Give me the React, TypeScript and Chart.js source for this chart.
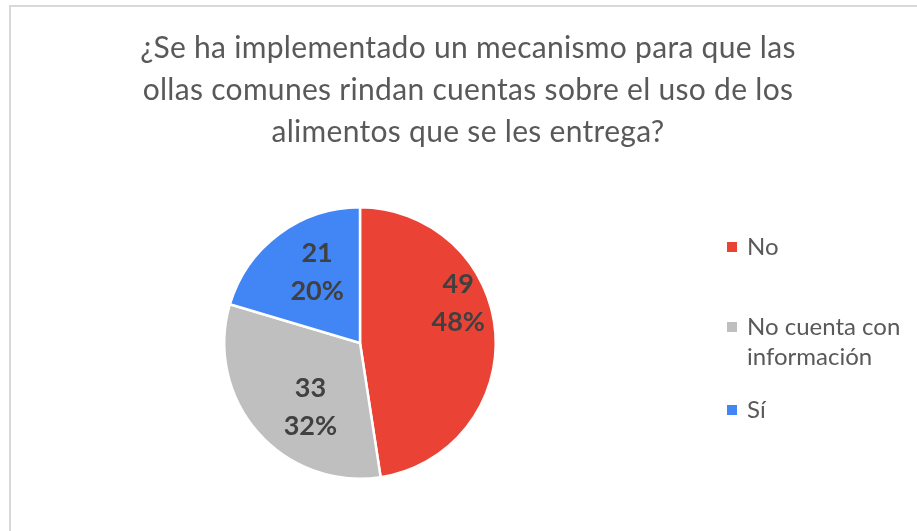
import React, { useEffect, useRef } from "react";
import { Chart, registerables } from "chart.js";

Chart.register(...registerables);

// ---- data ----
const categories = ["No", "No cuenta con información", "Sí"];
const values = [49, 33, 21];
const sliceColors = ["#EA4335", "#BFBFBF", "#4285F4"];
const titleLines = [
  "¿Se ha implementado un mecanismo para que las",
  "ollas comunes rindan cuentas sobre el uso de los",
  "alimentos que se les entrega?",
];
const legendLines = [["No"], ["No cuenta con", "información"], ["Sí"]];

// ---- layout constants ----
const W = 917;
const H = 531;
const TITLE_FONT = "30px Lato";
const TITLE_SPACING = "0.3px";
const TITLE_CENTER_X = 468;
const TITLE_BASELINES = [58, 100, 142];
const LEGEND_FONT = "24px Lato";
const LEGEND_BOX_X = 727;
const LEGEND_TEXT_X = 747;
const LEGEND_ROW_Y = [247, 327, 410];
const LEGEND_LINE_H = 30;
const LABEL_FONT = "bold 27px Lato";
const LABEL_LINE_H = 38;
// radial factor and angular nudge (degrees) for each slice label
const LABEL_PLACE = [
  { f: 0.78, da: -17.6 },
  { f: 0.6, da: -11.4 },
  { f: 0.61, da: 5.5 },
];

const total = values.reduce((a, b) => a + b, 0);

const framePlugin = {
  id: "frame",
  beforeDraw(chart: any) {
    const ctx = chart.ctx;
    ctx.save();
    ctx.fillStyle = "#ffffff";
    ctx.fillRect(0, 0, W, H);
    ctx.strokeStyle = "#D9D9D9";
    ctx.lineWidth = 2;
    ctx.beginPath();
    ctx.moveTo(10, H + 5);
    ctx.lineTo(10, 6);
    ctx.lineTo(W + 5, 6);
    ctx.stroke();
    ctx.restore();
  },
};

const textPlugin = {
  id: "texts",
  afterDraw(chart: any) {
    const ctx = chart.ctx;
    ctx.save();
    // title
    ctx.fillStyle = "#595959";
    ctx.font = TITLE_FONT;
    (ctx as any).letterSpacing = TITLE_SPACING;
    ctx.textAlign = "center";
    ctx.textBaseline = "alphabetic";
    titleLines.forEach((line, i) => {
      ctx.fillText(line, TITLE_CENTER_X, TITLE_BASELINES[i]);
    });
    (ctx as any).letterSpacing = "0px";
    // legend
    ctx.font = LEGEND_FONT;
    ctx.textAlign = "left";
    ctx.textBaseline = "middle";
    legendLines.forEach((lines, i) => {
      const y0 = LEGEND_ROW_Y[i];
      ctx.fillStyle = sliceColors[i];
      ctx.fillRect(LEGEND_BOX_X, y0 - 5, 10, 10);
      ctx.fillStyle = "#595959";
      lines.forEach((t, j) => {
        ctx.fillText(t, LEGEND_TEXT_X, y0 + j * LEGEND_LINE_H);
      });
    });
    ctx.restore();
  },
};

const labelPlugin = {
  id: "sliceLabels",
  afterDatasetsDraw(chart: any) {
    const ctx = chart.ctx;
    const meta = chart.getDatasetMeta(0);
    ctx.save();
    ctx.font = LABEL_FONT;
    ctx.fillStyle = "#404040";
    ctx.textAlign = "center";
    ctx.textBaseline = "middle";
    meta.data.forEach((arc: any, i: number) => {
      const p = arc.getProps(["x", "y", "startAngle", "endAngle", "outerRadius"], true);
      const mid = (p.startAngle + p.endAngle) / 2 + (LABEL_PLACE[i].da * Math.PI) / 180;
      const r = p.outerRadius * LABEL_PLACE[i].f;
      const cx = p.x + Math.cos(mid) * r;
      const cy = p.y + Math.sin(mid) * r;
      const v = values[i];
      const pct = Math.round((v / total) * 100) + "%";
      ctx.fillText(String(v), cx, cy - LABEL_LINE_H / 2);
      ctx.fillText(pct, cx, cy + LABEL_LINE_H / 2);
    });
    ctx.restore();
  },
};

export default function App() {
  const ref = useRef<HTMLCanvasElement | null>(null);
  useEffect(() => {
    document.body.style.margin = "0";
    const canvas = ref.current!;
    const chart = new Chart(canvas, {
      type: "pie",
      data: {
        labels: categories,
        datasets: [
          {
            data: values,
            backgroundColor: sliceColors,
            borderColor: "#ffffff",
            borderWidth: 2.5,
          },
        ],
      },
      options: {
        responsive: false,
        animation: false,
        events: [],
        layout: { padding: { left: 223, right: 420, top: 206, bottom: 51 } },
        plugins: {
          legend: { display: false },
          title: { display: false },
          tooltip: { enabled: false },
        },
      },
      plugins: [framePlugin, labelPlugin, textPlugin],
    });
    return () => chart.destroy();
  }, []);
  return (
    <div style={{ width: W, height: H }}>
      <canvas ref={ref} width={W} height={H} style={{ display: "block" }} />
    </div>
  );
}
